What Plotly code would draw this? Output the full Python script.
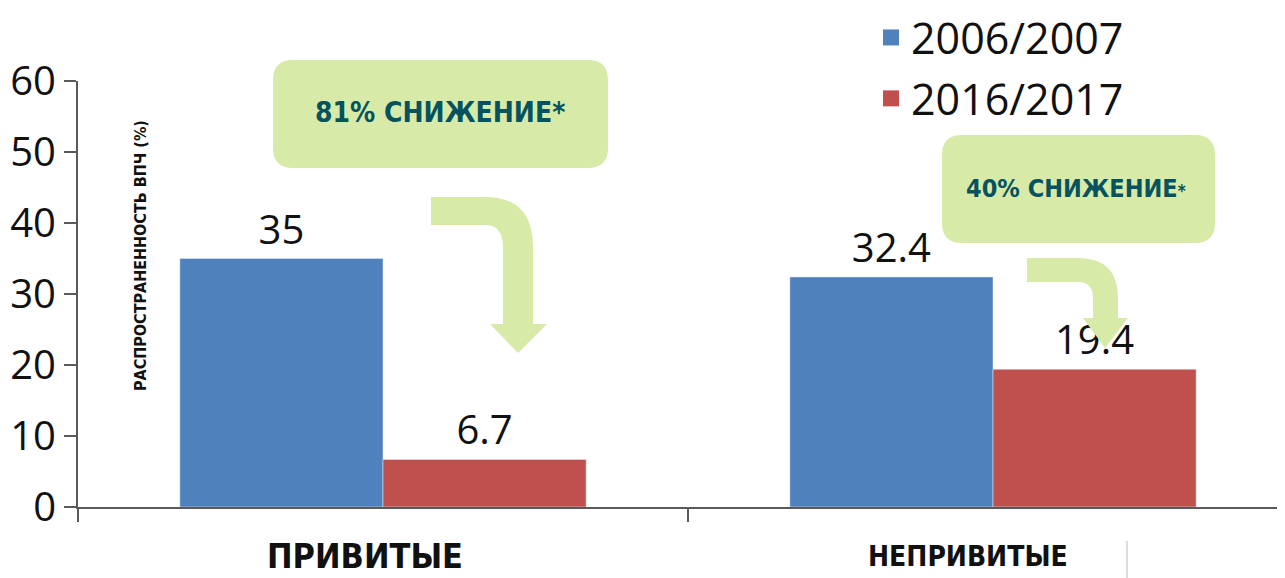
import plotly.graph_objects as go

groups = ["ПРИВИТЫЕ", "НЕПРИВИТЫЕ"]
years = ["2006/2007", "2016/2017"]
vals_2006 = [35, 32.4]
vals_2016 = [6.7, 19.4]
colors = ["#4f81bd", "#c0504d"]
drops = ["81% СНИЖЕНИЕ*", "40% СНИЖЕНИЕ"]

NARROW = "DejaVu Sans, Liberation Sans Narrow, sans-serif"
SANS = "Open Sans, DejaVu Sans, sans-serif"
GREEN = "#d7eaa8"
TEAL = "#06535f"

# the page body adds 8px, so the figure is 8px smaller than the window
OFF = 8
FW, FH = 1285 - OFF, 578 - OFF
# plot area, in page pixels
L, R, T, B = 78, 1285, 81, 507
W, H = R - L, B - T


def P(x, y):
    return f"{(x - L) / W:.5f},{(B - y) / H:.5f}"


def px_x(x):
    return (x - L) / W


def px_y(y):
    return (B - y) / H


def cond(s, size=None):
    sz = f"font-size:{size}px;" if size else ""
    return f"<span style='font-stretch:condensed;{sz}'><b>{s}</b></span>"


def rounded_box(x0, y0, x1, y1, r):
    return (f"M{P(x0 + r, y0)} L{P(x1 - r, y0)} Q{P(x1, y0)} {P(x1, y0 + r)} "
            f"L{P(x1, y1 - r)} Q{P(x1, y1)} {P(x1 - r, y1)} L{P(x0 + r, y1)} "
            f"Q{P(x0, y1)} {P(x0, y1 - r)} L{P(x0, y0 + r)} Q{P(x0, y0)} {P(x0 + r, y0)} Z")


def bent_arrow(xl, yt, yb, sx0, sx1, knee, hy, hx0, hx1, tip):
    cx = sx0 - (sx1 - sx0) * 0.6
    return (f"M{P(xl, yt)} L{P(cx, yt)} Q{P(sx1, yt)} {P(sx1, knee)} L{P(sx1, hy)} "
            f"L{P(hx1, hy)} L{P(tip[0], tip[1])} L{P(hx0, hy)} L{P(sx0, hy)} "
            f"L{P(sx0, knee)} Q{P(sx0, yb)} {P(cx, yb)} L{P(xl, yb)} Z")


fig = go.Figure()
for name, vals, c in zip(years, [vals_2006, vals_2016], colors):
    fig.add_trace(go.Bar(x=groups, y=vals, name=name, marker_color=c, showlegend=False,
                         texttemplate="%{y}", textposition="outside", cliponaxis=False,
                         textfont=dict(family=SANS, size=40, color="#111")))
# legend entries
for i, (name, c) in enumerate(zip(years, colors)):
    fig.add_trace(go.Scatter(x=[None], y=[None], mode="markers", name=name, legendgroup=str(i),
                             marker=dict(symbol="square", size=20, color=c)))

shapes = [
    dict(type="path", xref="paper", yref="paper", path=rounded_box(273, 60, 608, 168, 20),
         fillcolor=GREEN, line_width=0, layer="above"),
    dict(type="path", xref="paper", yref="paper", path=rounded_box(942, 135, 1215, 243, 20),
         fillcolor=GREEN, line_width=0, layer="above"),
    dict(type="path", xref="paper", yref="paper",
         path=bent_arrow(431, 197, 225, 503, 533, 247, 324, 490, 547, (518, 353)),
         fillcolor=GREEN, line_width=0, layer="above"),
    dict(type="path", xref="paper", yref="paper",
         path=bent_arrow(1027, 258, 282, 1093, 1118, 298, 318, 1083, 1128, (1105, 348)),
         fillcolor=GREEN, line_width=0, layer="above"),
    dict(type="line", xref="paper", yref="paper", x0=px_x(1127), x1=px_x(1127),
         y0=px_y(541), y1=px_y(578), line=dict(color="#d0d0d0", width=1.5)),
]

common = dict(showarrow=False, xanchor="center", yanchor="middle")
annotations = [
    dict(text=cond("РАСПРОСТРАНЕННОСТЬ ВПЧ (%)"), textangle=-90, xref="paper", yref="paper",
         x=px_x(140), y=px_y(256), font=dict(family=NARROW, size=16, color="#111"), **common),
    dict(text=cond(groups[0]), xref="x", x=groups[0], xshift=-18, yref="paper",
         y=px_y(556), font=dict(family=NARROW, size=34, color="#111"), **common),
    dict(text=cond(groups[1]), xref="x", x=groups[1], xshift=-25, yref="paper",
         y=px_y(556), font=dict(family=NARROW, size=28, color="#111"), **common),
    dict(text=cond(drops[0]), xref="paper", yref="paper",
         x=px_x(440), y=px_y(112), font=dict(family=NARROW, size=28, color=TEAL), **common),
    dict(text=cond(drops[1]) + cond("*", 17), xref="paper", yref="paper",
         x=px_x(1076), y=px_y(188), font=dict(family=NARROW, size=25, color=TEAL), **common),
]

fig.update_layout(
    width=FW, height=FH,
    margin=dict(l=L - OFF, r=FW - (R - OFF), t=T - OFF, b=FH - (B - OFF), autoexpand=False),
    plot_bgcolor="white", paper_bgcolor="white",
    barmode="group", bargap=0.334, bargroupgap=0,
    showlegend=True,
    legend=dict(xref="paper", yref="paper", x=px_x(871), y=px_y(3), xanchor="left", yanchor="top",
                font=dict(family=SANS, size=43, color="#111"), itemsizing="trace",
                traceorder="grouped", tracegroupgap=2, itemwidth=30, bgcolor="rgba(0,0,0,0)"),
    xaxis=dict(type="category", range=[-0.5, -0.5 + W / 610], showline=True, linecolor="#5a5a5a",
               linewidth=2, ticks="outside", tickson="boundaries", ticklen=13, tickwidth=2,
               tickcolor="#5a5a5a", showticklabels=False, showgrid=False),
    yaxis=dict(range=[0, 60], dtick=10, showline=True, linecolor="#5a5a5a", linewidth=2,
               ticks="outside", ticklen=12, tickwidth=2, tickcolor="#5a5a5a", showgrid=False,
               zeroline=False, tickfont=dict(family=SANS, size=40, color="#111")),
    shapes=shapes,
    annotations=annotations,
)

fig.write_html("out.html")
